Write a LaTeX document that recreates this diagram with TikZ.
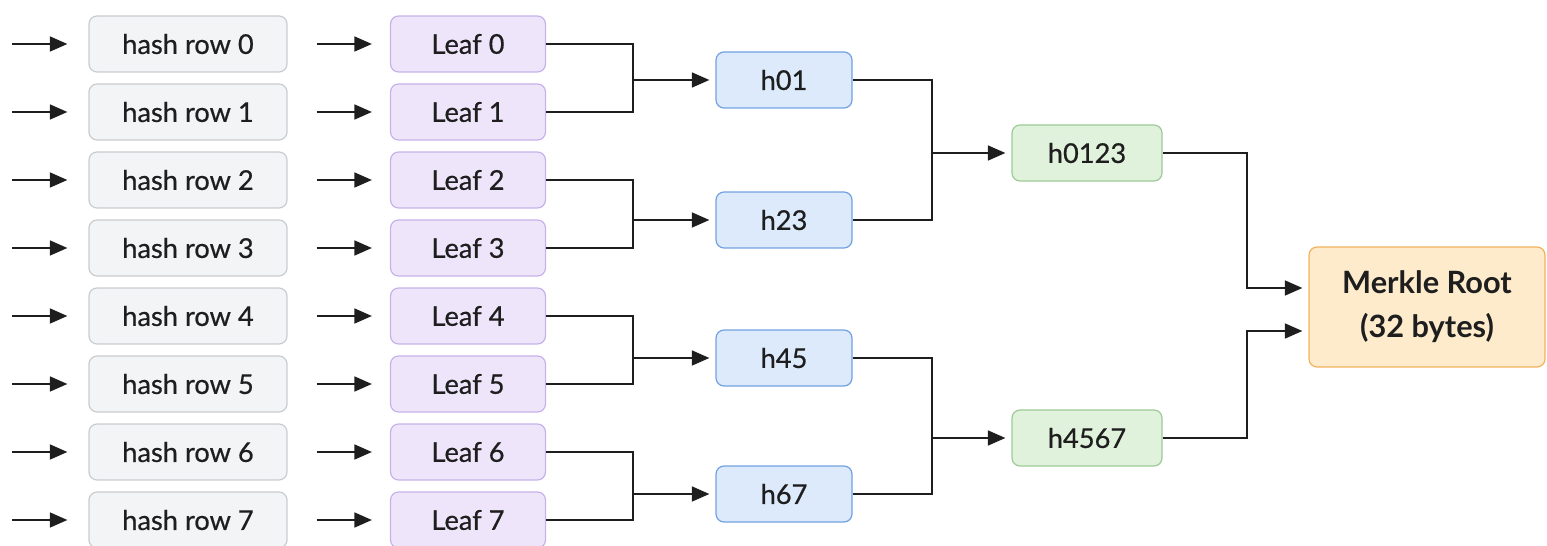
\documentclass[tikz,border=0pt]{standalone}
\usepackage{fontspec}
\setmainfont{Lato}
\newfontfamily\boxfont{Lato}[FakeBold=0.6]
\usepackage{xcolor}
\usepackage{tikz}
\usetikzlibrary{arrows.meta}

\definecolor{rowfill}{HTML}{F3F4F6}
\definecolor{rowline}{HTML}{C9CCD1}
\definecolor{leaffill}{HTML}{EFE5FB}
\definecolor{leafline}{HTML}{C8B2EA}
\definecolor{pairfill}{HTML}{DCEAFB}
\definecolor{pairline}{HTML}{72A1E2}
\definecolor{quadfill}{HTML}{E0F2DC}
\definecolor{quadline}{HTML}{9DCB96}
\definecolor{rootfill}{HTML}{FDEBCC}
\definecolor{rootline}{HTML}{F1B35C}
\definecolor{ink}{HTML}{1E1E1E}

\tikzset{
  box/.style={draw, line width=0.7pt, rounded corners=0.16cm, minimum height=1.12cm,
    text=ink, font=\boxfont\fontsize{15.5}{18}\selectfont, inner sep=0pt},
  rowbox/.style={box, fill=rowfill, draw=rowline, minimum width=3.96cm},
  leafbox/.style={box, fill=leaffill, draw=leafline, minimum width=3.1cm},
  pairbox/.style={box, fill=pairfill, draw=pairline, minimum width=2.72cm},
  quadbox/.style={box, fill=quadfill, draw=quadline, minimum width=3cm},
  rootbox/.style={box, fill=rootfill, draw=rootline, minimum width=4.72cm,
    minimum height=2.4cm, align=center, font=\fontsize{17.5}{25}\selectfont\bfseries},
  wire/.style={line width=1.1pt, draw=ink},
  arr/.style={wire, -{Triangle[length=10pt,width=8.5pt]}},
}

\begin{document}
\begin{tikzpicture}[x=0.02cm, y=-0.02cm]
  \useasboundingbox (0,0) rectangle (1547,546);

  % input rows
  \node[rowbox] (r0) at (188,44)  {hash row 0};
  \node[rowbox] (r1) at (188,112) {hash row 1};
  \node[rowbox] (r2) at (188,180) {hash row 2};
  \node[rowbox] (r3) at (188,248) {hash row 3};
  \node[rowbox] (r4) at (188,316) {hash row 4};
  \node[rowbox] (r5) at (188,384) {hash row 5};
  \node[rowbox] (r6) at (188,452) {hash row 6};
  \node[rowbox] (r7) at (188,520) {hash row 7};

  % leaves
  \node[leafbox] (l0) at (468,44)  {Leaf 0};
  \node[leafbox] (l1) at (468,112) {Leaf 1};
  \node[leafbox] (l2) at (468,180) {Leaf 2};
  \node[leafbox] (l3) at (468,248) {Leaf 3};
  \node[leafbox] (l4) at (468,316) {Leaf 4};
  \node[leafbox] (l5) at (468,384) {Leaf 5};
  \node[leafbox] (l6) at (468,452) {Leaf 6};
  \node[leafbox] (l7) at (468,520) {Leaf 7};

  % pair hashes
  \node[pairbox] (h01) at (784,80)  {h01};
  \node[pairbox] (h23) at (784,220) {h23};
  \node[pairbox] (h45) at (784,358) {h45};
  \node[pairbox] (h67) at (784,494) {h67};

  % four-leaf hashes
  \node[quadbox] (h0123) at (1087,153) {h0123};
  \node[quadbox] (h4567) at (1087,438) {h4567};

  \node[rootbox] (root) at (1427,307) {Merkle Root\\(32 bytes)};

  % free ends of the input arrows
  \coordinate (in0) at (12,44);
  \coordinate (in1) at (12,112);
  \coordinate (in2) at (12,180);
  \coordinate (in3) at (12,248);
  \coordinate (in4) at (12,316);
  \coordinate (in5) at (12,384);
  \coordinate (in6) at (12,452);
  \coordinate (in7) at (12,520);

  \draw[arr, shorten >=0.42cm] (in0) -- (r0.west);
  \draw[arr, shorten >=0.42cm] (in1) -- (r1.west);
  \draw[arr, shorten >=0.42cm] (in2) -- (r2.west);
  \draw[arr, shorten >=0.42cm] (in3) -- (r3.west);
  \draw[arr, shorten >=0.42cm] (in4) -- (r4.west);
  \draw[arr, shorten >=0.42cm] (in5) -- (r5.west);
  \draw[arr, shorten >=0.42cm] (in6) -- (r6.west);
  \draw[arr, shorten >=0.42cm] (in7) -- (r7.west);

  \draw[arr, shorten <=0.58cm, shorten >=0.36cm] (r0.east) -- (l0.west);
  \draw[arr, shorten <=0.58cm, shorten >=0.36cm] (r1.east) -- (l1.west);
  \draw[arr, shorten <=0.58cm, shorten >=0.36cm] (r2.east) -- (l2.west);
  \draw[arr, shorten <=0.58cm, shorten >=0.36cm] (r3.east) -- (l3.west);
  \draw[arr, shorten <=0.58cm, shorten >=0.36cm] (r4.east) -- (l4.west);
  \draw[arr, shorten <=0.58cm, shorten >=0.36cm] (r5.east) -- (l5.west);
  \draw[arr, shorten <=0.58cm, shorten >=0.36cm] (r6.east) -- (l6.west);
  \draw[arr, shorten <=0.58cm, shorten >=0.36cm] (r7.east) -- (l7.west);

  % leaf pairs join
  \coordinate (j01) at (633,80);
  \coordinate (j23) at (633,220);
  \coordinate (j45) at (633,358);
  \coordinate (j67) at (633,494);

  \draw[wire] (l0.east) -| (j01) |- (l1.east);
  \draw[wire] (l2.east) -| (j23) |- (l3.east);
  \draw[wire] (l4.east) -| (j45) |- (l5.east);
  \draw[wire] (l6.east) -| (j67) |- (l7.east);
  \draw[arr, shorten >=0.12cm] (j01) -- (h01.west);
  \draw[arr, shorten >=0.12cm] (j23) -- (h23.west);
  \draw[arr, shorten >=0.12cm] (j45) -- (h45.west);
  \draw[arr, shorten >=0.12cm] (j67) -- (h67.west);

  % pair hashes join
  \coordinate (j0123) at (932,153);
  \coordinate (j4567) at (932,438);

  \draw[wire] (h01.east) -| (j0123) |- (h23.east);
  \draw[wire] (h45.east) -| (j4567) |- (h67.east);
  \draw[arr, shorten >=0.12cm] (j0123) -- (h0123.west);
  \draw[arr, shorten >=0.12cm] (j4567) -- (h4567.west);

  % into the root
  \coordinate (k0) at (1247,288);
  \coordinate (k1) at (1247,331);

  \draw[arr, shorten >=0.12cm] (h0123.east) -| (k0) -- (root.west |- k0);
  \draw[arr, shorten >=0.12cm] (h4567.east) -| (k1) -- (root.west |- k1);
\end{tikzpicture}
\end{document}
